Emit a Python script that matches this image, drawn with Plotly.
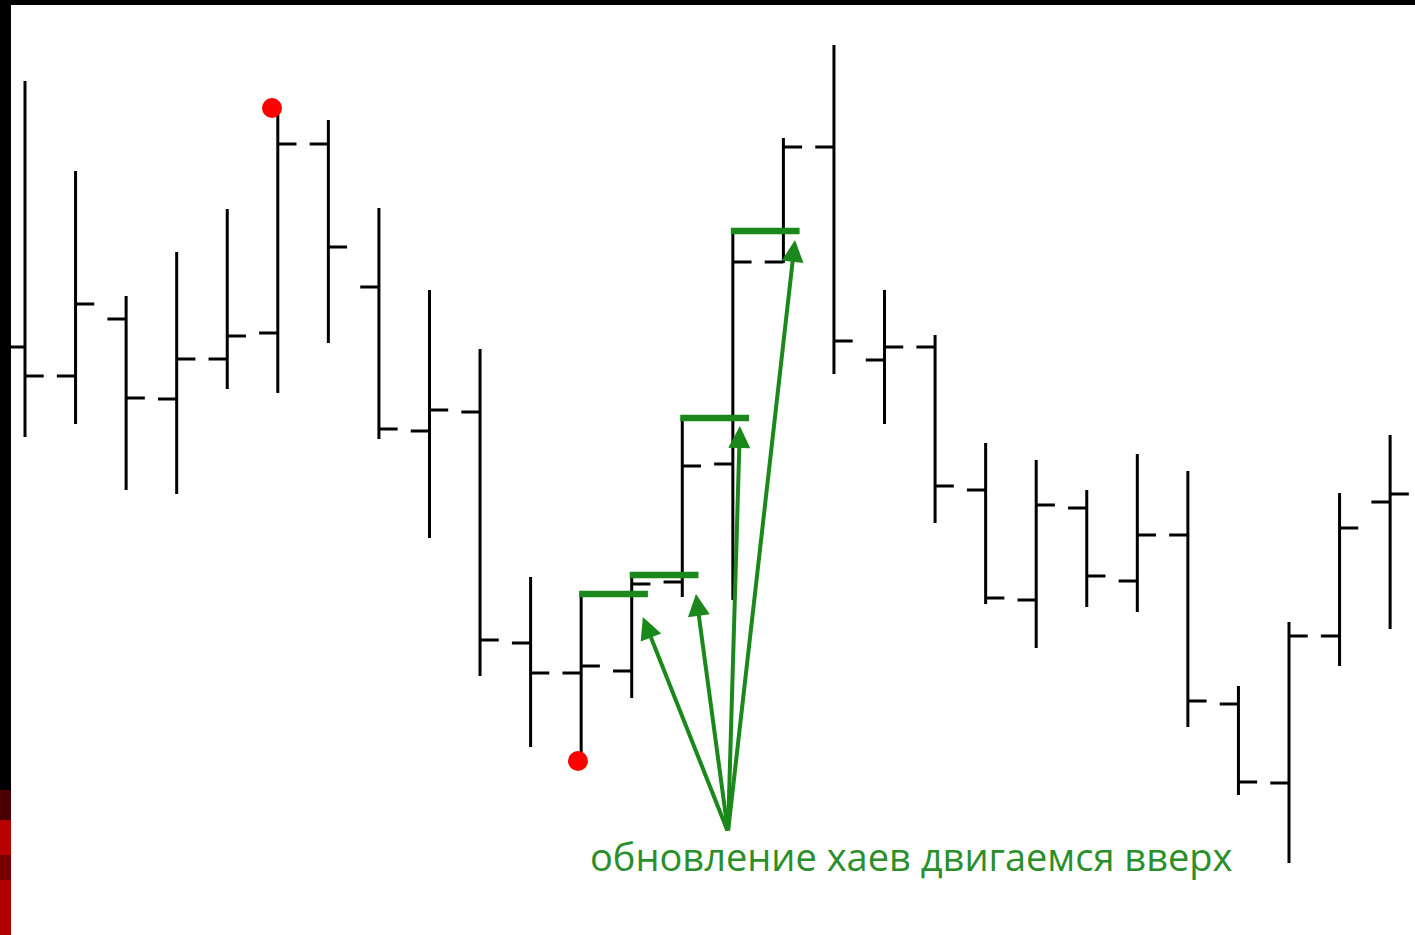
import plotly.graph_objects as go

# ---- data (price units) ----
bar_x = list(range(1, 29))
opens  = [58.8, 55.9, 61.6, 53.6, 57.6, 60.2, 79.1, 64.8, 50.4, 52.3, 29.2, 26.2, 26.4, 35.3,
          47.1, 67.3, 78.8, 57.5, 58.8, 44.5, 33.5, 42.7, 35.4, 40.0, 23.1, 15.2, 29.9, 43.3]
highs  = [85.4, 76.4, 63.9, 68.3, 72.6, 82.2, 81.5, 72.7, 64.5, 58.6, 35.8, 34.1, 36.0, 51.7,
          70.4, 79.7, 89.0, 64.5, 60.0, 49.2, 47.5, 44.5, 48.1, 46.4, 24.9, 31.3, 44.2, 50.0]
lows   = [49.8, 51.1, 44.5, 44.1, 54.6, 54.2, 59.2, 49.6, 39.7, 25.9, 18.8, 18.2, 23.7, 33.8,
          33.5, 67.2, 56.1, 51.1, 41.2, 33.1, 28.7, 32.8, 32.3, 20.8, 14.0, 7.2, 26.9, 30.6]
closes = [55.9, 63.1, 53.7, 57.6, 59.9, 79.1, 68.8, 50.6, 52.5, 29.5, 26.2, 26.9, 35.1, 46.9,
          67.3, 78.8, 59.4, 58.8, 44.9, 33.7, 43.0, 35.9, 40.0, 23.4, 15.3, 29.9, 40.7, 44.1]

# extremes marked with red dots
dot_x = [5.885, 11.937]
dot_y = [82.7, 17.4]

# highs that get updated (green lines)
green_bars = [12, 13, 14, 15]
green_len = 1.36

# arrows: common tail and tips
arrow_tail = (14.904, 10.3)
arrow_tips_x = [13.22, 14.27, 15.14, 16.23]
arrow_tips_y = [31.8, 34.1, 50.9, 69.5]

label_text = "обновление хаев двигаемся вверх"
label_pos = (18.54, 7.9)

GREEN = "#1a881a"

fig = go.Figure()

fig.add_trace(go.Ohlc(
    x=bar_x, open=opens, high=highs, low=lows, close=closes,
    increasing=dict(line=dict(color="black", width=3)),
    decreasing=dict(line=dict(color="black", width=3)),
    tickwidth=0.37, hoverinfo="skip", showlegend=False,
))

gx, gy = [], []
for b in green_bars:
    h = highs[b - 1]
    gx += [b - 0.04, b - 0.04 + green_len, None]
    gy += [h, h, None]
fig.add_trace(go.Scatter(x=gx, y=gy, mode="lines",
                         line=dict(color=GREEN, width=6.5),
                         hoverinfo="skip", showlegend=False))

fig.add_trace(go.Scatter(x=dot_x, y=dot_y, mode="markers",
                         marker=dict(color="#ff0000", size=20, line=dict(width=0)),
                         hoverinfo="skip", showlegend=False))

for tx, ty in zip(arrow_tips_x, arrow_tips_y):
    fig.add_annotation(x=tx, y=ty, ax=arrow_tail[0], ay=arrow_tail[1],
                       xref="x", yref="y", axref="x", ayref="y",
                       text="", showarrow=True, arrowhead=2, arrowsize=1.1,
                       arrowwidth=4, arrowcolor=GREEN, standoff=0)

fig.add_annotation(x=label_pos[0], y=label_pos[1], xref="x", yref="y",
                   text=label_text, showarrow=False,
                   font=dict(family="Open Sans", size=38, color="#2a8f2a"))

# slide frame decoration
W, H = 1415, 935
shapes = [
    dict(type="rect", xref="paper", yref="paper", x0=0, x1=11 / W, y0=0, y1=1,
         fillcolor="black", line=dict(width=0), layer="above"),
    dict(type="rect", xref="paper", yref="paper", x0=0, x1=1, y0=1 - 5 / H, y1=1,
         fillcolor="black", line=dict(width=0), layer="above"),
]
for y0, y1, c in [(790, 820, "#4a0000"), (820, 855, "#b80000"), (855, 880, "#780000"), (880, 935, "#b00000")]:
    shapes.append(dict(type="rect", xref="paper", yref="paper", x0=0, x1=11 / W,
                       y0=1 - y1 / H, y1=1 - y0 / H, fillcolor=c, line=dict(width=0), layer="above"))

fig.update_layout(
    width=W, height=H,
    margin=dict(l=0, r=0, t=0, b=0),
    paper_bgcolor="white", plot_bgcolor="white",
    shapes=shapes,
    xaxis=dict(range=[0.5055, 28.492], visible=False, rangeslider=dict(visible=False), fixedrange=True),
    yaxis=dict(range=[0, 93.5], visible=False, fixedrange=True),
)

fig.write_html("out.html", config={"displayModeBar": False},
               post_script="document.body.style.margin='0px';document.body.style.overflow='hidden';")
